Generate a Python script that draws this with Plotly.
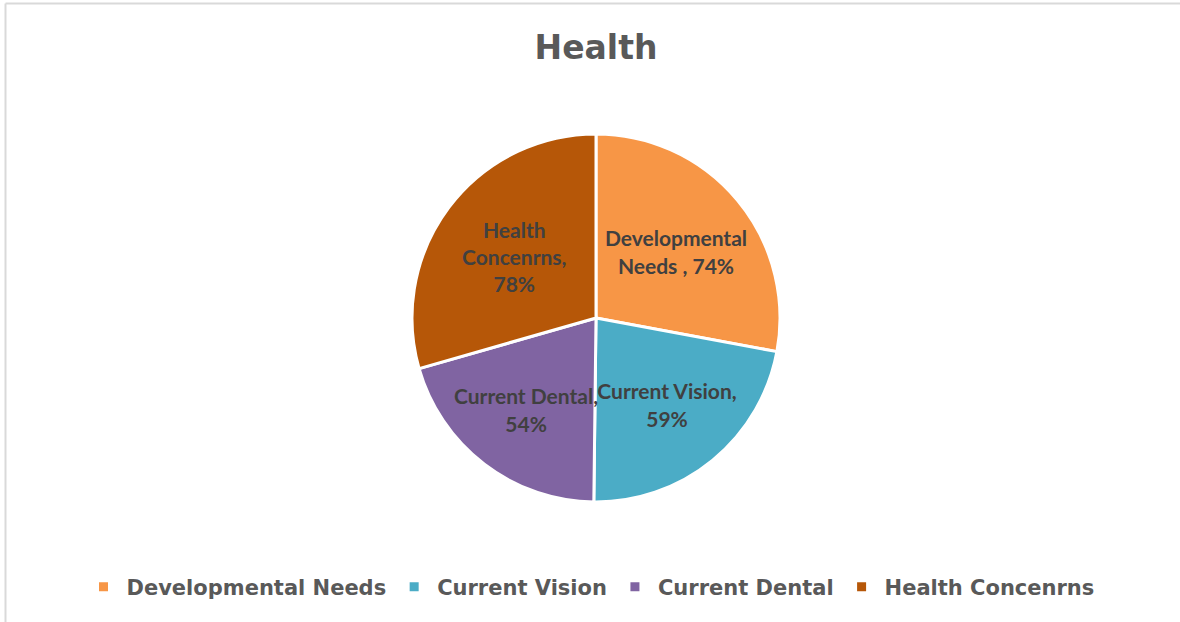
import plotly.graph_objects as go

categories = ["Developmental Needs", "Current Vision", "Current Dental", "Health Concenrns"]
values = [74, 59, 54, 78]
label_text = ["Developmental<br>Needs , 74%", "Current Vision,<br>59%", "Current Dental,<br>54%", "Health<br>Concenrns,<br>78%"]
colors = ["#F79646", "#4BACC6", "#8064A2", "#B65708"]

W, H = 1180, 622
cx, cy, r = 596, 318, 184

fig = go.Figure(go.Pie(
    labels=categories,
    values=values,
    text=label_text,
    textinfo="text",
    textposition="inside",
    insidetextorientation="horizontal",
    sort=False,
    direction="clockwise",
    rotation=0,
    marker=dict(colors=colors, line=dict(color="white", width=3)),
    textfont=dict(family="Lato", size=21, color="#404040", weight="bold"),
    domain=dict(x=[(cx - r) / W, (cx + r) / W], y=[1 - (cy + r) / H, 1 - (cy - r) / H]),
    hoverinfo="label+value",
))

fig.update_layout(
    width=W, height=H,
    margin=dict(l=0, r=0, t=0, b=0),
    paper_bgcolor="white",
    uniformtext=dict(minsize=21, mode="show"),
    title=dict(text="<b>Health</b>", x=596 / W, xanchor="center", y=1 - 47 / H, yanchor="middle",
               font=dict(family="DejaVu Sans", size=33, color="#595959")),
    legend=dict(orientation="h", x=0.5, xanchor="center", y=1 - 587 / H, yanchor="middle",
                font=dict(family="DejaVu Sans", size=21, color="#595959", weight="bold"),
                itemwidth=36, traceorder="normal"),
    showlegend=True,
    shapes=[
        dict(type="line", xref="paper", yref="paper", x0=5.5 / W, x1=1.0, y0=1 - 3.5 / H, y1=1 - 3.5 / H,
             line=dict(color="#D9D9D9", width=2)),
        dict(type="line", xref="paper", yref="paper", x0=5.5 / W, x1=5.5 / W, y0=0, y1=1 - 3.5 / H,
             line=dict(color="#D9D9D9", width=2)),
    ],
)

fig.write_html("out.html", config={"displayModeBar": False},
               post_script="document.body.style.margin='0px';document.body.style.overflow='hidden';")
